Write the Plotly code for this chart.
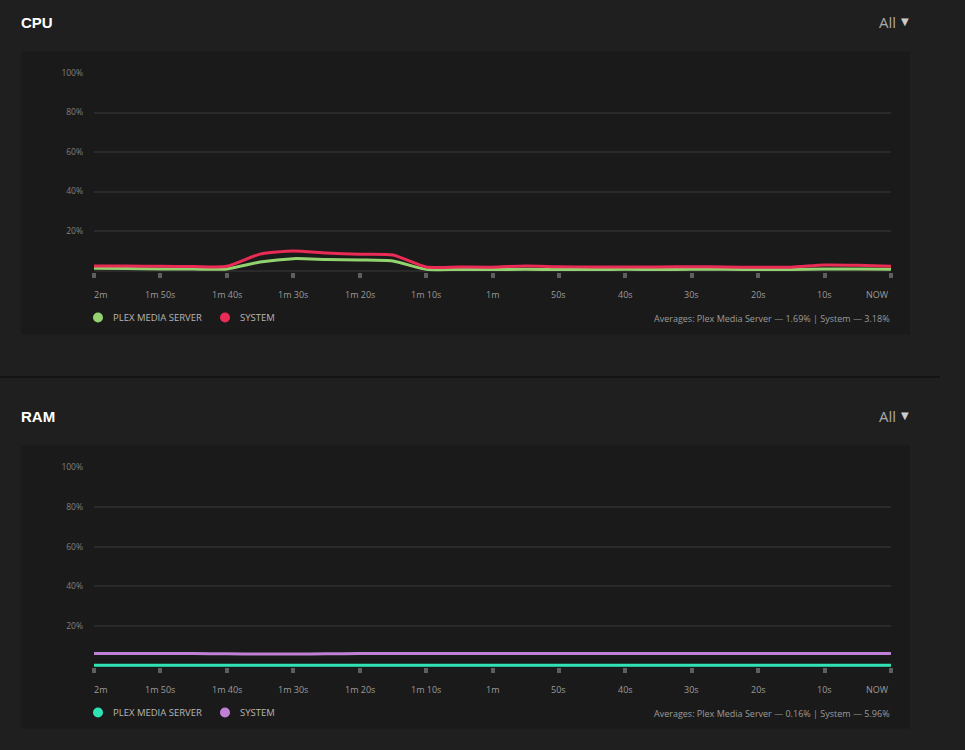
import plotly.graph_objects as go

W, H = 965, 750

# ---------------- data ----------------
time_s = [-120, -115, -110, -105, -100, -95, -90, -85, -80, -75, -70, -65, -60,
          -55, -50, -45, -40, -35, -30, -25, -20, -15, -10, -5, 0]

cpu_pms = [1.2, 1.0, 0.8, 0.7, 0.8, 4.3, 6.0, 5.6, 5.3, 4.8, 0.6, 0.5, 0.5,
           0.6, 0.5, 0.5, 0.6, 0.5, 0.6, 0.6, 0.5, 0.5, 0.8, 0.7, 0.6]
cpu_sys = [2.3, 2.3, 2.1, 2.0, 2.1, 8.3, 9.9, 8.8, 8.2, 7.8, 1.8, 1.8, 1.7,
           2.3, 1.9, 1.8, 1.8, 1.8, 1.9, 1.8, 1.6, 1.7, 2.8, 2.6, 2.1]

ram_pms = [0.16] * 25
ram_sys = [6.0, 6.0, 6.0, 6.0, 5.9, 5.8, 5.8, 5.9, 6.0, 6.0, 6.0, 6.0, 6.0,
           6.0, 6.0, 6.0, 6.0, 6.0, 6.0, 6.0, 6.0, 6.0, 6.0, 6.0, 6.0]

tick_vals = [-120, -110, -100, -90, -80, -70, -60, -50, -40, -30, -20, -10, 0]
tick_text = ["2m", "1m 50s", "1m 40s", "1m 30s", "1m 20s", "1m 10s", "1m",
             "50s", "40s", "30s", "20s", "10s", "NOW"]
y_tick_vals = [0, 20, 40, 60, 80, 100]
y_tick_text = ["", "20%", "40%", "60%", "80%", "100%"]

series_names = ["PLEX MEDIA SERVER", "SYSTEM"]
cpu_colors = ["#93d36f", "#ea2b55"]
ram_colors = ["#30e3b6", "#bf80d6"]
cpu_avg = "Averages: Plex Media Server \u2014 1.69% | System \u2014 3.18%"
ram_avg = "Averages: Plex Media Server \u2014 0.16% | System \u2014 5.96%"

# ---------------- helpers ----------------
def px(x):
    return x / W

def py(y):
    # small vertical correction measured from the first render
    yc = (y - 5.5) / 0.992
    return 1 - yc / H

PAGE_BG = "#1f1f1f"
PANEL_BG = "#1a1a1a"
GRID = "#2a2a2a"
FONT = "Open Sans"

fig = go.Figure()

panels = [
    dict(top=51, bottom=334, zero=270, hundred=72.5, xa="x", ya="y",
         vals=[cpu_pms, cpu_sys], colors=cpu_colors, avg=cpu_avg, title="CPU", title_y=22),
    dict(top=445, bottom=728, zero=665, hundred=467, xa="x2", ya="y2",
         vals=[ram_pms, ram_sys], colors=ram_colors, avg=ram_avg, title="RAM", title_y=416),
]

shapes = []
annotations = []

for i, p in enumerate(panels):
    shapes.append(dict(type="rect", xref="paper", yref="paper",
                       x0=px(21), x1=px(910), y0=py(p["bottom"]), y1=py(p["top"]),
                       fillcolor=PANEL_BG, line=dict(width=0), layer="below"))
    for name, vals, col in zip(series_names, p["vals"], p["colors"]):
        fig.add_trace(go.Scatter(x=time_s, y=vals, mode="lines", name=name,
                                 line=dict(color=col, width=3, shape="spline", smoothing=0.6),
                                 xaxis=p["xa"], yaxis=p["ya"], showlegend=False,
                                 hoverinfo="skip"))
    for j, (tv, tt) in enumerate(zip(tick_vals, tick_text)):
        anchor = "left" if j == 0 else ("right" if j == len(tick_vals) - 1 else "center")
        annotations.append(dict(x=tv, y=py(p["zero"] + 24), xref=p["xa"], yref="paper",
                                text=tt, showarrow=False, xanchor=anchor, yanchor="middle",
                                xshift=-2 if j == 0 else 0,
                                font=dict(family=FONT, size=9, color="#9a9a9a")))
    leg_y = p["zero"] + 47
    for name, col, dx in zip(series_names, p["colors"], [98, 225]):
        shapes.append(dict(type="circle", xref="paper", yref="paper",
                           x0=px(dx - 5), x1=px(dx + 5), y0=py(leg_y + 5), y1=py(leg_y - 5),
                           fillcolor=col, line=dict(width=0)))
        annotations.append(dict(x=px(dx + 13), y=py(leg_y), xref="paper", yref="paper",
                                text=name, showarrow=False, xanchor="left", yanchor="middle",
                                font=dict(family=FONT, size=9.5, color="#b5b5b5")))
    annotations.append(dict(x=px(892), y=py(leg_y + 1), xref="paper", yref="paper",
                            text=p["avg"], showarrow=False, xanchor="right", yanchor="middle",
                            font=dict(family=FONT, size=9, color="#9a9a9a")))
    annotations.append(dict(x=px(19), y=py(p["title_y"]), xref="paper", yref="paper",
                            text="<b>" + p["title"] + "</b>", showarrow=False,
                            xanchor="left", yanchor="middle",
                            font=dict(family="Liberation Sans", size=15, color="#ffffff")))
    annotations.append(dict(x=px(898), y=py(p["title_y"] - 0.5), xref="paper", yref="paper",
                            text="All", showarrow=False, xanchor="right", yanchor="middle",
                            font=dict(family=FONT, size=15, color="#aaaaaa")))
    annotations.append(dict(x=px(899), y=py(p["title_y"] - 0.5), xref="paper", yref="paper",
                            text="\u25BC", showarrow=False, xanchor="left", yanchor="middle",
                            font=dict(family="DejaVu Sans", size=10, color="#cccccc")))

    unit = (p["zero"] - p["hundred"]) / 100.0
    ybot = p["zero"] + 1 * unit
    suffix = "" if i == 0 else "2"
    fig.update_layout(**{
        "xaxis" + suffix: dict(domain=[px(94), px(891)], range=[-120, 0],
                               anchor="y" + suffix, tickvals=tick_vals, showticklabels=False,
                               ticks="outside", ticklen=5, tickwidth=4, tickcolor="#5e5e5e",
                               showgrid=False, zeroline=False, showline=False, fixedrange=True),
        "yaxis" + suffix: dict(domain=[py(ybot), py(p["hundred"])], range=[-1, 100],
                               anchor="x" + suffix, tickvals=y_tick_vals, ticktext=y_tick_text,
                               showgrid=True, gridcolor=GRID, gridwidth=1.5,
                               zeroline=False, showline=False, ticks="",
                               ticklabelstandoff=10,
                               tickfont=dict(family=FONT, size=8.5, color="#808080"),
                               fixedrange=True),
    })

shapes.append(dict(type="rect", xref="paper", yref="paper",
                   x0=0, x1=px(940), y0=py(377.5), y1=py(375.5),
                   fillcolor="#141414", line=dict(width=0), layer="below"))

fig.update_layout(
    width=W, height=H, margin=dict(l=0, r=0, t=0, b=0),
    paper_bgcolor=PAGE_BG, plot_bgcolor=PANEL_BG,
    shapes=shapes, annotations=annotations, showlegend=False,
)

fig.write_html("out.html", config={"displayModeBar": False})
